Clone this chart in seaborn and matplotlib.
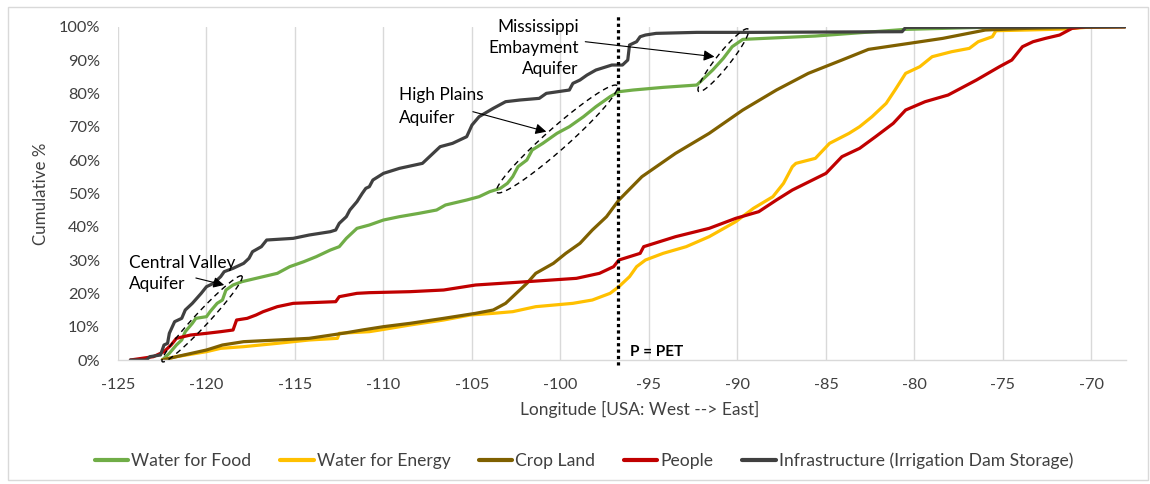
import numpy as np
import pandas as pd
import matplotlib
matplotlib.use("Agg")
import matplotlib.pyplot as plt
import seaborn as sns
from matplotlib.lines import Line2D
from matplotlib.patches import Rectangle
from matplotlib.ticker import FuncFormatter

# ---------------- data ----------------
series_names = ["Water for Food", "Water for Energy", "Crop Land", "People",
                "Infrastructure (Irrigation Dam Storage)"]
series_colors = ["#70AD47", "#FFC000", "#7F6000", "#C00000", "#404040"]

food_lon = [-122.5, -122.1, -121.7, -121.4, -121.2, -120.8, -120.6, -120.0, -119.8, -119.4,
            -119.1, -118.9, -118.5, -118.0, -117.2, -116.0, -115.3, -114.5, -113.8, -113.0,
            -112.5, -112.1, -111.5, -110.8, -110.0, -109.1, -108.0, -107.0, -106.5, -105.3,
            -104.6, -104.0, -103.4, -103.0, -102.7, -102.4, -101.9, -101.6, -101.0, -100.2,
            -99.5, -98.7, -98.0, -97.2, -96.7, -95.9, -94.2, -92.3, -92.0, -91.4,
            -90.8, -90.3, -89.7, -85.6, -82.8, -80.5, -76.2, -68.1]
food_pct = [0, 2, 4.5, 6, 8.5, 11, 12.5, 13, 14.5, 17,
            18, 21, 22.5, 23.5, 24.5, 26, 28, 29.5, 31, 33,
            34, 36.5, 39.5, 40.5, 42, 43, 44, 45, 46.5, 48,
            49, 50.5, 51.5, 53, 55, 58, 60, 63, 65, 68,
            70, 73, 76, 79, 80.5, 81, 81.8, 82.5, 84, 87,
            90.5, 94, 96.2, 97.2, 98.3, 99.2, 99.8, 100]

energy_lon = [-122.5, -121.7, -120.0, -119.2, -117.9, -116.0, -114.2, -112.6, -112.5, -110.8,
              -110.2, -108.5, -106.6, -105.1, -103.8, -102.7, -101.4, -99.3, -98.2, -97.2,
              -96.7, -96.1, -95.7, -95.2, -94.2, -92.9, -91.6, -90.1, -89.1, -88.0,
              -87.4, -86.9, -86.7, -85.6, -84.8, -83.7, -83.1, -82.4, -81.6, -81.1,
              -80.5, -79.7, -79.0, -77.9, -76.9, -76.4, -75.6, -75.4, -73.7, -71.5,
              -70.3, -68.1]
energy_pct = [0, 1, 2.5, 3.5, 4, 5, 6, 6.5, 8, 8.5,
              9, 10.5, 12, 13.5, 14, 14.5, 16, 17, 18, 20,
              22, 25, 28, 30, 32, 34, 37, 41.5, 45.5, 49,
              53, 58, 59, 60.5, 65, 68, 70, 73, 77, 81,
              86, 88, 91, 92.5, 93.5, 95.5, 97, 98.8, 99, 99.3,
              99.8, 100]

crop_lon = [-122.5, -121.7, -120.0, -119.1, -117.9, -116.0, -114.2, -112.3, -111.2, -110.0,
            -108.5, -106.6, -104.8, -103.8, -103.1, -102.5, -101.9, -101.4, -100.4, -99.7,
            -98.9, -98.2, -97.4, -96.7, -95.4, -93.5, -91.6, -89.7, -87.8, -86.0,
            -84.1, -82.6, -80.3, -78.4, -76.0, -73.7, -70.9, -68.1]
crop_pct = [0, 1, 3, 4.5, 5.5, 6, 6.5, 8, 9, 10,
            11, 12.5, 14, 15, 17, 20, 23, 26, 29, 32,
            35, 39, 43, 48, 55, 62, 68, 75, 81, 86,
            90, 93.2, 95, 96.5, 99, 99.5, 99.8, 100]

people_lon = [-124.3, -123.0, -122.4, -122.0, -121.7, -120.9, -120.0, -119.2, -118.5, -118.3,
              -117.7, -117.2, -116.8, -116.0, -115.1, -112.7, -112.5, -111.5, -110.8, -108.5,
              -106.6, -104.8, -101.9, -99.1, -97.8, -97.0, -96.7, -95.5, -95.3, -93.5,
              -91.6, -90.1, -88.8, -87.8, -86.9, -85.0, -84.1, -83.1, -82.2, -81.2,
              -80.5, -79.4, -78.1, -76.5, -75.2, -74.5, -73.9, -73.3, -72.6, -71.8,
              -71.1, -70.3, -68.1]
people_pct = [0, 1, 2.5, 4.5, 6.5, 7.5, 8, 8.5, 9, 12,
              12.5, 13.5, 14.5, 16, 17, 17.5, 19, 20, 20.2, 20.5,
              21, 22.5, 23.5, 24.5, 26, 28, 30, 32, 34, 37,
              39.5, 42.5, 44.5, 48, 51, 56, 61, 63.5, 67, 71,
              75, 77.5, 79.5, 84, 88, 90, 94, 95.5, 96.5, 97.5,
              99.5, 100, 100]

infra_lon = [-124.3, -123.4, -123.2, -122.6, -122.4, -122.2, -122.1, -121.8, -121.4, -121.2,
             -120.8, -120.3, -120.0, -119.6, -119.2, -119.0, -118.5, -117.9, -117.6, -117.4,
             -116.9, -116.6, -115.1, -114.2, -113.0, -112.7, -112.5, -112.1, -111.9, -111.5,
             -111.2, -111.0, -110.8, -110.6, -110.0, -109.1, -107.8, -106.8, -106.1, -105.3,
             -105.0, -104.6, -103.8, -103.1, -102.3, -101.2, -100.8, -99.5, -99.3, -98.9,
             -98.5, -98.0, -97.4, -97.1, -96.5, -96.2, -96.1, -95.7, -95.5, -95.2,
             -94.6, -92.3, -89.3, -80.7, -80.5, -68.1]
infra_pct = [0, 0, 1, 1.5, 4.5, 5, 8, 11.5, 12.5, 15,
             17, 20, 22, 23, 25, 26.5, 27.5, 29, 30.5, 32.5,
             34, 36, 36.5, 37.5, 38.5, 39, 41, 43, 45, 47.5,
             50, 51.5, 52, 54, 56, 57.5, 59, 64, 65, 67,
             70.5, 73, 75.5, 77.5, 78, 78.5, 80, 81, 83, 84,
             85.5, 87, 88, 88.5, 88.5, 90, 94.5, 95.5, 97, 97.5,
             98, 98.3, 98.3, 98.5, 99.8, 100]

x_ticks = list(range(-125, -69, 5))
y_ticks = list(range(0, 101, 10))
pet_lon = -96.75

# ---------------- build long table ----------------
frames = []
for name, lo, pc in zip(series_names,
                        [food_lon, energy_lon, crop_lon, people_lon, infra_lon],
                        [food_pct, energy_pct, crop_pct, people_pct, infra_pct]):
    frames.append(pd.DataFrame({"series": name, "lon": lo, "pct": pc}))
df = pd.concat(frames, ignore_index=True)
palette = dict(zip(series_names, series_colors))

# ---------------- figure ----------------
sns.set_theme(style="white")
plt.rcParams["font.family"] = ["Lato", "DejaVu Sans"]
plt.rcParams["axes.unicode_minus"] = False
text_color = "#404040"

W, H = 1150, 484
fig = plt.figure(figsize=(W / 100, H / 100), dpi=100)
ax = fig.add_axes([118 / W, 1 - 360 / H, (1126 - 118) / W, (360 - 26.7) / H])

sns.lineplot(data=df, x="lon", y="pct", hue="series", hue_order=series_names,
             palette=palette, sort=False, estimator=None, linewidth=2.3,
             legend=False, ax=ax)

ax.set_xlim(-125, -68.05)
ax.set_ylim(0, 100)
ax.set_xticks(x_ticks)
ax.set_yticks(y_ticks)
ax.yaxis.set_major_formatter(FuncFormatter(lambda v, p: f"{int(v)}%"))
ax.tick_params(axis="both", length=0, labelsize=11.8, colors=text_color)
ax.tick_params(axis="y", pad=13)
ax.tick_params(axis="x", pad=13)
ax.xaxis.grid(True, color="#D9D9D9", lw=1)
ax.yaxis.grid(False)
for s in ["left", "right", "top"]:
    ax.spines[s].set_visible(False)
ax.spines["bottom"].set_color("#D9D9D9")
ax.spines["bottom"].set_linewidth(1)
ax.set_axisbelow(True)

ax.set_xlabel("Longitude [USA: West --> East]", fontsize=12.5, color=text_color)
ax.xaxis.set_label_coords((640 - 118) / 1008, (360 - 409) / 333.3)
ax.xaxis.label.set_va("center")
ax.set_ylabel("Cumulative %", fontsize=12.2, color=text_color)
ax.yaxis.set_label_coords((41 - 118) / 1008, 0.5)
ax.yaxis.label.set_va("center")

# P = PET dotted line
ax.plot([pet_lon, pet_lon], [-1.5, 103.5], color="black", lw=2.3,
        dashes=(1, 1), clip_on=False, zorder=6)
ax.text(-96.1, 2.4, "P = PET", fontsize=11, fontweight="bold", ha="left",
        va="center", color="black")

# dashed ellipses
def dashed_ellipse(p1, p2, width_px):
    a = ax.transData.transform(p1)
    b = ax.transData.transform(p2)
    c = (a + b) / 2
    d = b - a
    L = np.hypot(*d)
    ang = np.arctan2(d[1], d[0])
    t = np.linspace(0, 2 * np.pi, 300)
    ex = L / 2 * np.cos(t)
    ey = width_px / 2 * np.sin(t)
    px = c[0] + ex * np.cos(ang) - ey * np.sin(ang)
    py = c[1] + ex * np.sin(ang) + ey * np.cos(ang)
    pts = ax.transData.inverted().transform(np.column_stack([px, py]))
    ax.plot(pts[:, 0], pts[:, 1], color="black", lw=1.0, ls=(0, (4, 3)),
            clip_on=False, zorder=7)

dashed_ellipse((-122.5, -0.5), (-118.0, 25.2), 14)
dashed_ellipse((-103.6, 50.3), (-96.8, 82.3), 22)
dashed_ellipse((-92.2, 80.6), (-89.4, 99.3), 14)

arrow = dict(arrowstyle="-|>", color="black", lw=0.8, mutation_scale=16,
             shrinkA=0, shrinkB=0)
ann_fs = 12.4
ax.text(-124.36, 25.95, "Central Valley\nAquifer", fontsize=ann_fs, ha="left",
        va="center", linespacing=1.42, color="black")
ax.annotate("", xy=(-119.0, 22.5), xytext=(-120.6, 24.6), arrowprops=arrow)

ax.text(-109.13, 76.1, "High Plains\nAquifer", fontsize=ann_fs, ha="left",
        va="center", linespacing=1.58, color="black")
ax.annotate("", xy=(-100.8, 68.5), xytext=(-104.95, 74.5), arrowprops=arrow)

ax.text(-98.98, 93.6, "Mississippi\nEmbayment\nAquifer", fontsize=ann_fs, ha="right",
        va="center", linespacing=1.4, color="black")
ax.annotate("", xy=(-91.3, 91.0), xytext=(-98.6, 95.5), arrowprops=arrow)

# legend
handles = [Line2D([0], [0], color=c, lw=3) for c in series_colors]
fig.legend(handles, series_names, loc="center", bbox_to_anchor=(584 / W, 1 - 461 / H),
           ncol=5, frameon=False, fontsize=12.6, handlelength=1.9, handletextpad=0.17,
           columnspacing=1.65, labelcolor=text_color)

# chart border
fig.add_artist(Rectangle((8 / W, 4 / H), (1148 - 8) / W, (477 - 4) / H,
                         transform=fig.transFigure, fill=False,
                         edgecolor="#D9D9D9", lw=1))

fig.savefig("out.png", dpi=100)
